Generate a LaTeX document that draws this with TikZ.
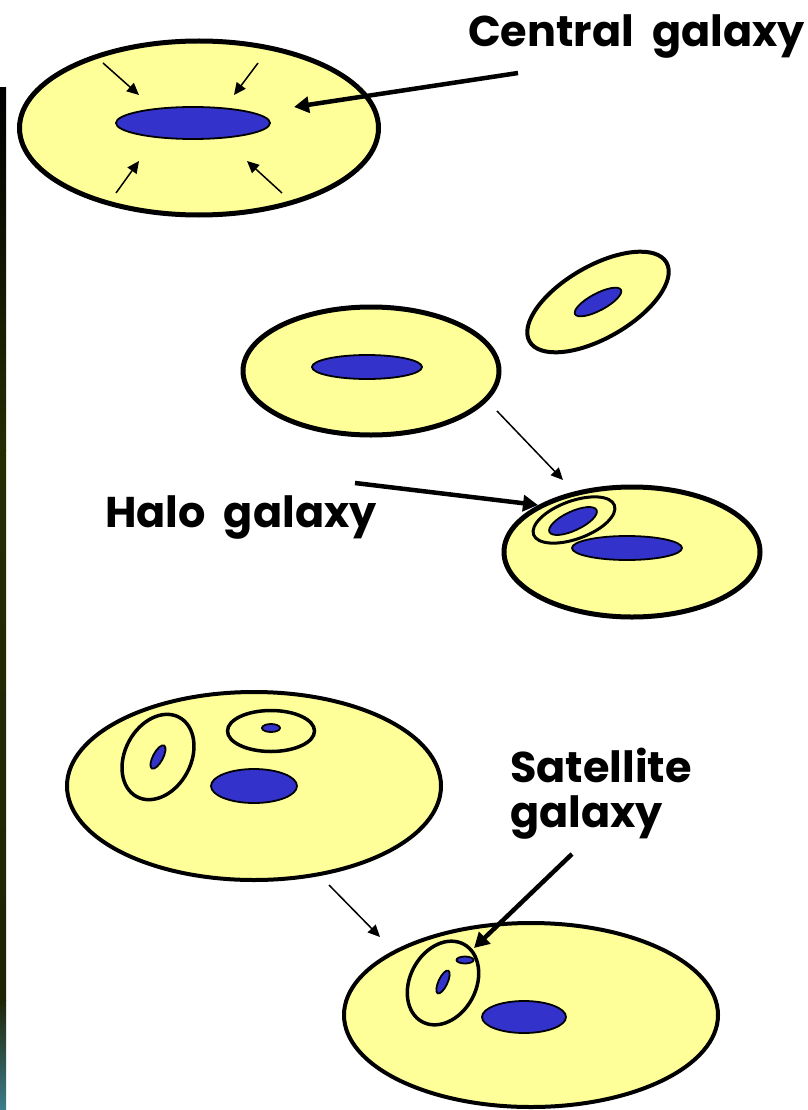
\documentclass[tikz,border=0pt]{standalone}
\usepackage{fontspec}
\setmainfont{Poppins}
\usetikzlibrary{shapes.geometric,arrows.meta}
\definecolor{halo}{RGB}{255,255,153}
\definecolor{gal}{RGB}{51,51,204}
\definecolor{olive1}{RGB}{38,44,2}
\definecolor{olive2}{RGB}{30,36,4}
\definecolor{teal1}{RGB}{60,125,140}
\tikzset{
  halobig/.style={ellipse, draw=black, fill=halo, line width=5pt, inner sep=0pt, outer sep=0pt},
  halomid/.style={ellipse, draw=black, fill=halo, line width=4pt, inner sep=0pt, outer sep=0pt},
  subhalo/.style={ellipse, draw=black, fill=halo, line width=3.5pt, inner sep=0pt, outer sep=0pt},
  galaxy/.style={ellipse, draw=black, fill=gal, line width=1.8pt, inner sep=0pt, outer sep=0pt},
  thinarrow/.style={line width=1.5pt, -{Triangle[length=12pt,width=11pt]}},
  thickarrow/.style={line width=4.5pt, -{Triangle[length=15pt,width=16pt]}},
  label/.style={font=\bfseries\fontsize{43}{50}\selectfont, inner sep=0pt, anchor=base west}
}
\newcommand{\wsp}{\hspace{0.42em}}
\begin{document}
\begin{tikzpicture}[x=1pt,y=-1pt]
\useasboundingbox (0,0) rectangle (807,1110);
\fill[white] (0,0) rectangle (807,1110);
% left photo strip
\shade[top color=black, bottom color=olive1] (0,88) rectangle (6,450);
\shade[top color=olive1, bottom color=olive2] (0,450) rectangle (6,1000);
\shade[top color=olive2, bottom color=teal1] (0,1000) rectangle (6,1110);

% ---- top: central galaxy ----
\node[halobig, minimum width=359pt, minimum height=174pt] (H1) at (199,128) {};
\node[galaxy, minimum width=154pt, minimum height=32pt] (G1) at (193,123) {};
\coordinate (a1s) at (103,63);  \coordinate (a1e) at (139,95);
\coordinate (a2s) at (258,63);  \coordinate (a2e) at (234,95);
\coordinate (a3s) at (116,193); \coordinate (a3e) at (139,161);
\coordinate (a4s) at (282,193); \coordinate (a4e) at (247,161);
\draw[thinarrow] (a1s) -- (a1e);
\draw[thinarrow] (a2s) -- (a2e);
\draw[thinarrow] (a3s) -- (a3e);
\draw[thinarrow] (a4s) -- (a4e);
\node[label] (tCentral) at (468,47) {Central\wsp galaxy};
\coordinate (cgs) at (518,73); \coordinate (cge) at (294,107);
\draw[thickarrow] (cgs) -- (cge);

% ---- middle ----
\node[halobig, minimum width=256pt, minimum height=128pt] (H2) at (371,371) {};
\node[galaxy, minimum width=110pt, minimum height=24pt] (G2) at (367,367) {};
\node[subhalo, line width=4pt, minimum width=158pt, minimum height=72pt, rotate=30] (H3) at (598,302) {};
\node[galaxy, minimum width=52pt, minimum height=17pt, rotate=28] (G3) at (598,302) {};
\coordinate (m1s) at (497,411); \coordinate (m1e) at (563,480);
\draw[thinarrow] (m1s) -- (m1e);

\node[halobig, minimum width=256pt, minimum height=130pt] (H4) at (632,552) {};
\node[subhalo, line width=3pt, minimum width=86pt, minimum height=38pt, rotate=20] (H5) at (574,520) {};
\node[galaxy, minimum width=52pt, minimum height=19pt, rotate=25] (G5) at (573,521) {};
\node[galaxy, minimum width=110pt, minimum height=24pt] (G4) at (627,548) {};
\node[label] (tHalo) at (105,527) {Halo\wsp galaxy};
\coordinate (hgs) at (355,483); \coordinate (hge) at (538,505);
\draw[thickarrow] (hgs) -- (hge);

% ---- bottom ----
\node[halomid, minimum width=374pt, minimum height=188pt] (H6) at (254,786) {};
\node[subhalo, minimum width=90pt, minimum height=66pt, rotate=62] (H7) at (158,757) {};
\node[galaxy, minimum width=26pt, minimum height=10pt, rotate=62] (G7) at (158,757) {};
\node[subhalo, minimum width=87pt, minimum height=41pt] (H8) at (271,731) {};
\node[galaxy, minimum width=18pt, minimum height=8pt] (G8) at (271,728) {};
\node[galaxy, minimum width=86pt, minimum height=34pt] (G6) at (254,786) {};
\coordinate (b1s) at (329,885); \coordinate (b1e) at (380,937);
\draw[thinarrow] (b1s) -- (b1e);

\node[halomid, minimum width=374pt, minimum height=184pt] (H9) at (531,1015) {};
\node[subhalo, minimum width=88pt, minimum height=66pt, rotate=62] (H10) at (443,983) {};
\node[galaxy, minimum width=25pt, minimum height=9pt, rotate=65] (G10) at (443,982) {};
\node[galaxy, minimum width=17pt, minimum height=7pt] (G11) at (465,960) {};
\node[galaxy, minimum width=84pt, minimum height=32pt] (G9) at (524,1017) {};
\node[label] (tSat) at (510,782) {Satellite};
\node[label] (tSat2) at (510,827) {galaxy};
\coordinate (sgs) at (572,854); \coordinate (sge) at (474,948);
\draw[thickarrow] (sgs) -- (sge);
\end{tikzpicture}
\end{document}
